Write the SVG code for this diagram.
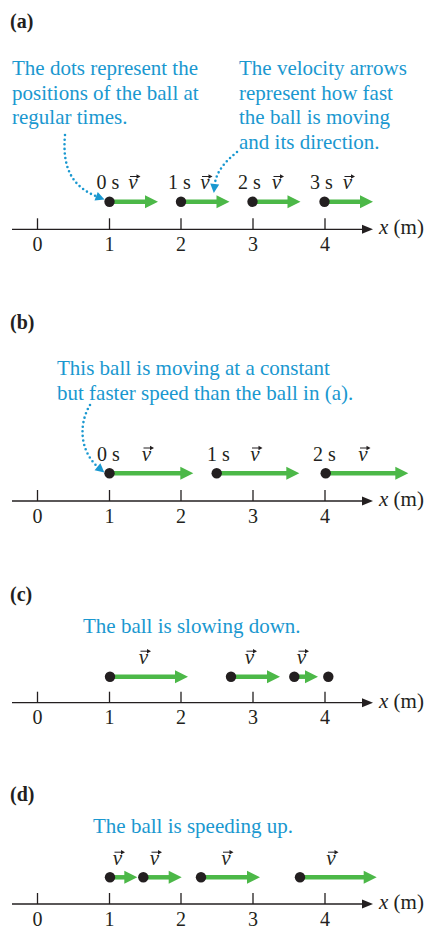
<svg xmlns="http://www.w3.org/2000/svg" xmlns:xlink="http://www.w3.org/1999/xlink" width="437" height="934" viewBox="0 0 437 934">
<style>
text{font-family:"Liberation Serif","Times New Roman",serif;fill:#231f20}
.lbl{font-weight:bold;font-size:20px}
.note{fill:#1a98d0;font-size:21px}
.num{font-size:20px;text-anchor:middle}
.t{font-size:20px}
.v{font-style:italic;font-size:21px;text-anchor:middle}
.xm{font-size:21px}
.axis{stroke:#231f20;stroke-width:1.3;fill:none}
.ax-tip{fill:#231f20}
.vel{stroke:#4cb848;stroke-width:4.5;fill:none;marker-end:url(#gh)}
.dot{fill:#231f20}
.call{stroke:#1a98d0;stroke-width:2.6;stroke-linecap:round;stroke-dasharray:0 4.6;fill:none;marker-end:url(#bh)}
.vecarr{stroke:#231f20;stroke-width:1;fill:none}
</style>
<defs>
<marker id="gh" markerUnits="userSpaceOnUse" markerWidth="14" markerHeight="14" refX="5" refY="6.5" orient="auto" overflow="visible">
<path d="M0,0 L13,6.5 L0,13 Z" fill="#4cb848"/>
</marker>
<marker id="bh" markerUnits="userSpaceOnUse" markerWidth="10" markerHeight="10" refX="2" refY="4.5" orient="auto" overflow="visible">
<path d="M0,0 L9,4.5 L0,9 Z" fill="#1a98d0"/>
</marker>
<g id="vecsym">
<path class="vecarr" d="M-4,0 H4"/>
<path d="M6.5,0 L2.5,-2.3 L2.5,2.3 Z" fill="#231f20"/>
</g>
<g id="axisA">
<line class="axis" x1="12" y1="0" x2="364" y2="0"/>
<polygon class="ax-tip" points="373,0 362,-4.5 362,4.5"/>
<line class="axis" x1="37.5" y1="-11" x2="37.5" y2="0"/>
<line class="axis" x1="109.5" y1="-11" x2="109.5" y2="0"/>
<line class="axis" x1="181" y1="-11" x2="181" y2="0"/>
<line class="axis" x1="253" y1="-11" x2="253" y2="0"/>
<line class="axis" x1="325" y1="-11" x2="325" y2="0"/>
<text class="num" x="37.5" y="21.5">0</text>
<text class="num" x="109.5" y="21.5">1</text>
<text class="num" x="181" y="21.5">2</text>
<text class="num" x="253" y="21.5">3</text>
<text class="num" x="325" y="21.5">4</text>
<text class="xm" x="379" y="5"><tspan font-style="italic">x</tspan> (m)</text>
</g>
</defs>

<!-- Panel (a) -->
<g id="panel-a">
<text class="lbl" x="10" y="28">(a)</text>
<g id="note-a1">
<text class="note" x="12" y="75">The dots represent the</text>
<text class="note" x="12" y="99.5">positions of the ball at</text>
<text class="note" x="12" y="124">regular times.</text>
</g>
<g id="note-a2">
<text class="note" x="239" y="75">The velocity arrows</text>
<text class="note" x="239" y="99.5">represent how fast</text>
<text class="note" x="239" y="124">the ball is moving</text>
<text class="note" x="239" y="148.5">and its direction.</text>
</g>
<g id="axis-a"><use xlink:href="#axisA" href="#axisA" transform="translate(0,229.3)"/></g>
<g id="ball-a0">
<text class="t" x="96.5" y="189.3">0 s</text>
<text class="v" x="133" y="189.3">v</text><use href="#vecsym" xlink:href="#vecsym" x="134" y="176.5"/>
<line class="vel" x1="109.5" y1="201.7" x2="150" y2="201.7"/>
<circle class="dot" cx="109.5" cy="201.7" r="5.2"/>
</g>
<g id="ball-a1">
<text class="t" x="168" y="189.3">1 s</text>
<text class="v" x="205" y="189.3">v</text><use href="#vecsym" xlink:href="#vecsym" x="206" y="176.5"/>
<line class="vel" x1="181" y1="201.7" x2="221.5" y2="201.7"/>
<circle class="dot" cx="181" cy="201.7" r="5.2"/>
</g>
<g id="ball-a2">
<text class="t" x="238" y="189.3">2 s</text>
<text class="v" x="276.5" y="189.3">v</text><use href="#vecsym" xlink:href="#vecsym" x="277.5" y="176.5"/>
<line class="vel" x1="252.5" y1="201.7" x2="292.5" y2="201.7"/>
<circle class="dot" cx="252.5" cy="201.7" r="5.2"/>
</g>
<g id="ball-a3">
<text class="t" x="310" y="189.3">3 s</text>
<text class="v" x="347.5" y="189.3">v</text><use href="#vecsym" xlink:href="#vecsym" x="348.5" y="176.5"/>
<line class="vel" x1="324.5" y1="201.7" x2="365" y2="201.7"/>
<circle class="dot" cx="324.5" cy="201.7" r="5.2"/>
</g>
</g>

<!-- Panel (b) -->
<g id="panel-b">
<text class="lbl" x="10" y="329">(b)</text>
<g id="note-b">
<text class="note" x="57" y="375">This ball is moving at a constant</text>
<text class="note" x="57" y="400">but faster speed than the ball in (a).</text>
</g>
<g id="axis-b"><use xlink:href="#axisA" href="#axisA" transform="translate(0,501)"/></g>
<g id="ball-b0">
<text class="t" x="97" y="460.8">0 s</text>
<text class="v" x="146.5" y="460.8">v</text><use href="#vecsym" xlink:href="#vecsym" x="147.5" y="448"/>
<line class="vel" x1="109.5" y1="473.3" x2="185.3" y2="473.3"/>
<circle class="dot" cx="109.5" cy="473.3" r="5.2"/>
</g>
<g id="ball-b1">
<text class="t" x="207" y="460.8">1 s</text>
<text class="v" x="255" y="460.8">v</text><use href="#vecsym" xlink:href="#vecsym" x="256" y="448"/>
<line class="vel" x1="216.7" y1="473.3" x2="291.3" y2="473.3"/>
<circle class="dot" cx="216.7" cy="473.3" r="5.2"/>
</g>
<g id="ball-b2">
<text class="t" x="313" y="460.8">2 s</text>
<text class="v" x="363" y="460.8">v</text><use href="#vecsym" xlink:href="#vecsym" x="364" y="448"/>
<line class="vel" x1="325.7" y1="473.3" x2="400.3" y2="473.3"/>
<circle class="dot" cx="325.7" cy="473.3" r="5.2"/>
</g>
</g>

<!-- Panel (c) -->
<g id="panel-c">
<text class="lbl" x="10" y="601">(c)</text>
<text id="note-c" class="note" x="83" y="633">The ball is slowing down.</text>
<g id="axis-c"><use xlink:href="#axisA" href="#axisA" transform="translate(0,702.7)"/></g>
<g id="ball-c0">
<text class="v" x="143.5" y="664">v</text><use href="#vecsym" xlink:href="#vecsym" x="144.5" y="651.2"/>
<line class="vel" x1="110" y1="676.7" x2="180" y2="676.7"/>
<circle class="dot" cx="110" cy="676.7" r="5.2"/>
</g>
<g id="ball-c1">
<text class="v" x="249.5" y="664">v</text><use href="#vecsym" xlink:href="#vecsym" x="250.5" y="651.2"/>
<line class="vel" x1="231" y1="676.7" x2="272" y2="676.7"/>
<circle class="dot" cx="231" cy="676.7" r="5.2"/>
</g>
<g id="ball-c2">
<text class="v" x="301.5" y="664">v</text><use href="#vecsym" xlink:href="#vecsym" x="302.5" y="651.2"/>
<line class="vel" x1="294.3" y1="676.7" x2="310" y2="676.7"/>
<circle class="dot" cx="294.3" cy="676.7" r="5.2"/>
</g>
<g id="ball-c3">
<circle class="dot" cx="328.3" cy="676.7" r="5.2"/>
</g>
</g>

<!-- Panel (d) -->
<g id="panel-d">
<text class="lbl" x="10" y="801">(d)</text>
<text id="note-d" class="note" x="93" y="833">The ball is speeding up.</text>
<g id="axis-d"><use xlink:href="#axisA" href="#axisA" transform="translate(0,904)"/></g>
<g id="ball-d0">
<text class="v" x="117.5" y="865">v</text><use href="#vecsym" xlink:href="#vecsym" x="118.5" y="852.2"/>
<line class="vel" x1="110" y1="877.3" x2="129.3" y2="877.3"/>
<circle class="dot" cx="110" cy="877.3" r="5.2"/>
</g>
<g id="ball-d1">
<text class="v" x="154.5" y="865">v</text><use href="#vecsym" xlink:href="#vecsym" x="155.5" y="852.2"/>
<line class="vel" x1="143.3" y1="877.3" x2="173.7" y2="877.3"/>
<circle class="dot" cx="143.3" cy="877.3" r="5.2"/>
</g>
<g id="ball-d2">
<text class="v" x="226" y="865">v</text><use href="#vecsym" xlink:href="#vecsym" x="227" y="852.2"/>
<line class="vel" x1="201" y1="877.3" x2="252" y2="877.3"/>
<circle class="dot" cx="201" cy="877.3" r="5.2"/>
</g>
<g id="ball-d3">
<text class="v" x="331" y="865">v</text><use href="#vecsym" xlink:href="#vecsym" x="332" y="852.2"/>
<line class="vel" x1="300" y1="877.3" x2="368.7" y2="877.3"/>
<circle class="dot" cx="300" cy="877.3" r="5.2"/>
</g>
</g>

<!-- Connectors (dotted callouts) -->
<g id="connectors">
<path class="call" d="M65,135 C62,168 72,187 98,197"/>
<path class="call" d="M237,152 C226,161 216,171 214.5,186"/>
<path class="call" d="M90,405 C78,425 80,452 99,468"/>
</g>
</svg>
